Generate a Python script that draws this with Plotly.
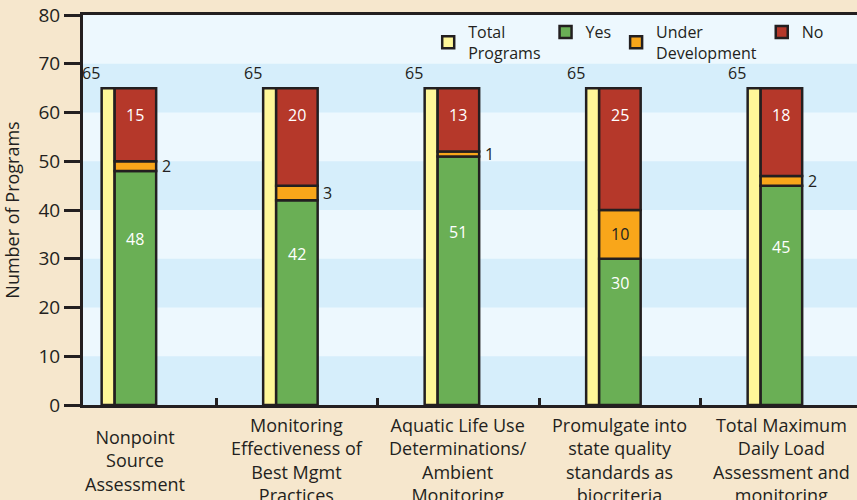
import plotly.graph_objects as go

categories = [
    "Nonpoint<br>Source<br>Assessment",
    "Monitoring<br>Effectiveness of<br>Best Mgmt<br>Practices",
    "Aquatic Life Use<br>Determinations/<br>Ambient<br>Monitoring",
    "Promulgate into<br>state quality<br>standards as<br>biocriteria",
    "Total Maximum<br>Daily Load<br>Assessment and<br>monitoring",
]
total_programs = [65, 65, 65, 65, 65]
yes_vals = [48, 42, 51, 30, 45]
under_dev_vals = [2, 3, 1, 10, 2]
no_vals = [15, 20, 13, 25, 18]
y_ticks = [0, 10, 20, 30, 40, 50, 60, 70, 80]

FONT = "Open Sans"
INK = "#231f20"
C_TOTAL = "#fff799"
C_YES = "#6aaf55"
C_UNDER = "#f9a61a"
C_NO = "#b5382a"

W_MAIN = 0.257
W_TOT = 0.0805
idx = list(range(len(categories)))

base_under = [y for y in yes_vals]
base_no = [y + u for y, u in zip(yes_vals, under_dev_vals)]

fig = go.Figure()
line = dict(color=INK, width=2.5)
fig.add_trace(go.Bar(name="Total<br>Programs", x=idx, y=total_programs,
                     width=W_TOT, offset=-W_MAIN / 2 - W_TOT,
                     marker=dict(color=C_TOTAL, line=line)))
fig.add_trace(go.Bar(name="Yes", x=idx, y=yes_vals, width=W_MAIN, offset=-W_MAIN / 2,
                     marker=dict(color=C_YES, line=line)))
fig.add_trace(go.Bar(name="Under<br>Development", x=idx, y=under_dev_vals, base=base_under,
                     width=W_MAIN, offset=-W_MAIN / 2, marker=dict(color=C_UNDER, line=line)))
fig.add_trace(go.Bar(name="No", x=idx, y=no_vals, base=base_no, width=W_MAIN, offset=-W_MAIN / 2,
                     marker=dict(color=C_NO, line=line)))

# stripes
shapes = []
for lo in range(0, 80, 20):
    shapes.append(dict(type="rect", xref="paper", yref="y", x0=0, x1=1, y0=lo, y1=lo + 10,
                       fillcolor="#d6eefb", line=dict(width=0), layer="below"))

ann = []
LBL = 16
for i in idx:
    ann.append(dict(x=i, y=total_programs[i], text=str(total_programs[i]), showarrow=False,
                    xshift=-44, yshift=15, font=dict(family=FONT, size=LBL, color=INK)))
    ann.append(dict(x=i, y=total_programs[i], text=str(no_vals[i]), showarrow=False,
                    yshift=-27, font=dict(family=FONT, size=LBL, color="white")))
    gy = min(yes_vals[i] / 2 + 10, yes_vals[i] - 4)
    ann.append(dict(x=i, y=gy, text=str(yes_vals[i]), showarrow=False,
                    font=dict(family=FONT, size=LBL, color="white")))
    uy = yes_vals[i] + under_dev_vals[i] / 2
    if under_dev_vals[i] < 5:
        ann.append(dict(x=i, y=uy, text=str(under_dev_vals[i]), showarrow=False,
                        xshift=31, font=dict(family=FONT, size=LBL, color=INK)))
    else:
        ann.append(dict(x=i, y=uy, text=str(under_dev_vals[i]), showarrow=False,
                        font=dict(family=FONT, size=LBL, color=INK)))
    ann.append(dict(x=i, y=0, text=categories[i], showarrow=False, yshift=-55,
                    yanchor="middle", font=dict(family=FONT, size=18, color=INK)))

fig.update_layout(
    width=857, height=500,
    margin=dict(l=83, r=0, t=15, b=95),
    paper_bgcolor="#f6e7cd",
    plot_bgcolor="#edf8fe",
    barmode="overlay",
    showlegend=True,
    legend=dict(orientation="h", x=0.446, y=1.0, xanchor="left", yanchor="top",
                bgcolor="rgba(0,0,0,0)", font=dict(family=FONT, size=16, color=INK),
                traceorder="normal", itemwidth=30),
    shapes=shapes,
    annotations=ann,
    font=dict(family=FONT, color=INK),
)
fig.update_xaxes(range=[-0.3245, 4.468], showgrid=False, zeroline=False, automargin=False,
                 showline=True, linecolor=INK, linewidth=3, mirror=True,
                 tickvals=idx, ticktext=[""] * len(idx), ticks="",
                 minor=dict(tickmode="array", tickvals=[i + 0.5 for i in idx[:-1]],
                            ticks="inside", ticklen=7, tickwidth=2.5, tickcolor=INK))
fig.update_yaxes(range=[0, 80], tickvals=y_ticks, showgrid=False, zeroline=False, automargin=False,
                 showline=True, linecolor=INK, linewidth=3,
                 ticks="outside", ticklen=16, tickwidth=2.5, tickcolor=INK,
                 tickfont=dict(family=FONT, size=19, color=INK),
                 title=dict(text="Number of Programs", font=dict(family=FONT, size=18, color=INK),
                            standoff=16))

fig.write_html("out.html", config={"displayModeBar": False},
               post_script="document.body.style.margin='0px';document.body.style.overflow='hidden';")
